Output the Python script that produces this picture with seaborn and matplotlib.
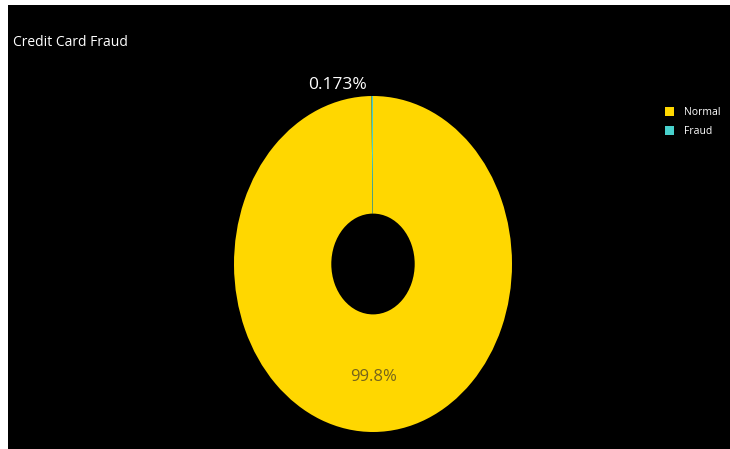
import matplotlib
matplotlib.use("Agg")
import matplotlib.pyplot as plt
import matplotlib.patches as mpatches
import numpy as np
import seaborn as sns

# Transaction classes and their share of all transactions (%)
labels = ["Normal", "Fraud"]
shares = [99.827, 0.173]
colors = ["#FFD700", "#48D1CC"]
title = "Credit Card Fraud"

sns.set_theme(style="dark")
plt.rcParams["font.family"] = ["Open Sans", "DejaVu Sans"]

W, H = 730, 449
fig = plt.figure(figsize=(W / 100, H / 100), dpi=100, facecolor="white")

# black canvas inset from the top-left corner
fig.patches.append(mpatches.Rectangle((8 / W, 0), 1 - 8 / W, 1 - 5 / H,
                                      transform=fig.transFigure,
                                      facecolor="black", edgecolor="none", zorder=-5))

def px(x0, y0, x1, y1):
    return [x0 / W, 1 - y1 / H, (x1 - x0) / W, (y1 - y0) / H]

ax = fig.add_axes(px(234, 96, 512, 432))
ax.set_facecolor("none")
ax.set_zorder(2)

hole = 0.3
wedges, _ = ax.pie(shares, colors=colors, startangle=90, counterclock=False,
                   radius=1.0, wedgeprops=dict(width=1 - hole, edgecolor="none",
                                               linewidth=0))
ax.set_aspect("auto")
ax.set_xlim(-1, 1)
ax.set_ylim(-1, 1)
ax.axis("off")

# percentage labels derived from the wedge angles
total = sum(shares)
angles = []
start = 90.0
for s in shares:
    sweep = 360.0 * s / total
    angles.append(np.deg2rad(start - sweep / 2))
    start -= sweep

# large slice: label inside the ring
a0 = angles[0]
rmid = (1 + hole) / 2 + 0.02
ax.text(rmid * np.cos(a0), rmid * np.sin(a0), f"{shares[0] / total * 100:.1f}%",
        ha="center", va="center", fontsize=12, color="#75641c", clip_on=False)

# tiny slice: label just outside the rim
a1 = angles[1]
ax.text(1.02 * np.cos(a1) - 0.04, 1.02 * np.sin(a1), f"{shares[1] / total * 100:.3g}%",
        ha="right", va="bottom", fontsize=12.5, color="white", clip_on=False)

fig.text(13 / W, 1 - 42 / H, title, ha="left", va="center", fontsize=10, color="white")

handles = [mpatches.Patch(facecolor=c, edgecolor="none") for c in colors]
leg = fig.legend(handles, labels, loc="upper left", bbox_to_anchor=(665 / W, 1 - 107 / H),
                 frameon=False, fontsize=7.5, labelcolor="white", handlelength=0.9,
                 handleheight=1.0, handletextpad=0.9, labelspacing=0.75,
                 borderaxespad=0, borderpad=0)

fig.savefig("out.png", dpi=100, facecolor=fig.get_facecolor())
